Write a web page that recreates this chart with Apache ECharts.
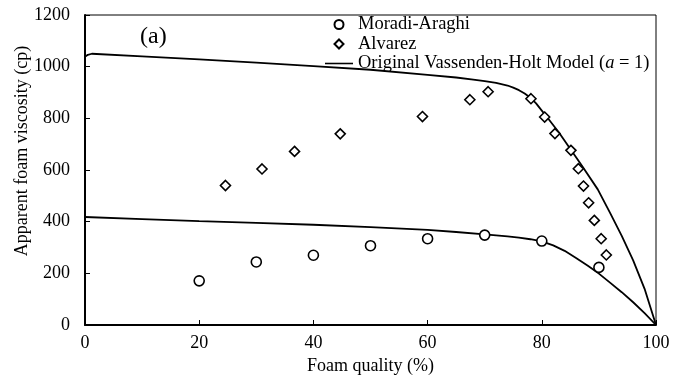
<!DOCTYPE html>
<html>
<head>
<meta charset="utf-8">
<script src="https://cdn.jsdelivr.net/npm/echarts@6/dist/echarts.min.js"></script>
<style>
  html, body { margin: 0; padding: 0; background: #fff; }
  #chart { width: 683px; height: 380px; }
</style>
</head>
<body>
<div id="chart"></div>
<script>
// Moradi-Araghi measurements: foam quality (%) vs apparent viscosity (cp)
const moradiQuality = [20, 30, 40, 50, 60, 70, 80, 90];
const moradiViscosity = [171, 244, 270, 307, 334, 348, 325, 223];

// Alvarez measurements
const alvarezQuality = [24.6, 31.0, 36.7, 44.7, 59.1, 67.4, 70.6, 78.1, 80.5, 82.3, 85.1, 86.4, 87.3, 88.2, 89.2, 90.4, 91.3];
const alvarezViscosity = [540, 604, 672, 740, 807, 872, 903, 876, 805, 741, 676, 605, 538, 473, 405, 334, 271];

// Vassenden-Holt model curve fitted to the Alvarez data
const modelAQuality = [0, 0.5, 1.2, 10, 20, 30, 40, 50, 60, 65, 68, 70, 72, 74, 75, 76, 77, 78, 79, 80, 81, 83, 85, 87, 89.8, 92, 94, 96, 98, 100];
const modelAViscosity = [1038, 1046, 1050, 1040, 1028, 1016, 1002, 988, 968, 958, 950, 944, 937, 927, 919, 909, 896, 880, 858, 830, 802, 745, 681, 617, 525, 432, 345, 250, 140, 0];

// Vassenden-Holt model curve fitted to the Moradi-Araghi data
const modelMQuality = [0, 10, 20, 30, 40, 50, 60, 65, 70, 72, 74, 76, 78, 80, 82, 84, 86, 88, 90, 92, 94, 96, 98, 100];
const modelMViscosity = [418, 410, 402, 395, 388, 379, 368, 360, 351, 347, 343, 338, 332, 324, 308, 287, 259, 230, 199, 163, 127, 88, 46, 0];

const xTicks = { min: 0, max: 100, interval: 20 };
const yTicks = { min: 0, max: 1200, interval: 200 };

const modelName = 'Original Vassenden-Holt Model (a = 1)';
const pairs = (xs, ys) => xs.map((x, i) => [x, ys[i]]);

const serif = 'Liberation Serif';
const black = '#000';
const chart = echarts.init(document.getElementById('chart'));
chart.setOption({
  animation: false,
  backgroundColor: '#fff',
  textStyle: { fontFamily: serif, color: black },
  title: {
    text: '(a)',
    left: 135, top: 20,
    textStyle: { fontFamily: serif, fontSize: 24, fontWeight: 'normal', color: black }
  },
  graphic: [
    {
      // y-axis title, placed a little above the plot's vertical centre
      type: 'text',
      x: 22, y: 151,
      rotation: Math.PI / 2,
      style: {
        text: 'Apparent foam viscosity (cp)',
        font: '18px "Liberation Serif"',
        fill: black,
        align: 'center',
        verticalAlign: 'middle'
      }
    }
  ],
  grid: {
    left: 85, right: 27, top: 15, bottom: 54,
    show: true, borderColor: black, borderWidth: 1, backgroundColor: 'transparent'
  },
  legend: {
    orient: 'vertical',
    left: 325, top: 15,
    padding: 0,
    itemWidth: 28, itemHeight: 9, itemGap: 0.5,
    symbolKeepAspect: true,
    textStyle: {
      fontFamily: serif, fontSize: 18.5, color: black, lineHeight: 18,
      rich: {
        n: { fontFamily: serif, fontSize: 18.5, color: black },
        i: { fontFamily: serif, fontSize: 18.5, color: black, fontStyle: 'italic' }
      }
    },
    formatter: function (name) {
      if (name === modelName) {
        return '{n|Original Vassenden-Holt Model (}{i|a}{n| = 1)}';
      }
      return name;
    },
    data: [
      { name: 'Moradi-Araghi', icon: 'circle' },
      { name: 'Alvarez', icon: 'path://M5,0L10,5L5,10L0,5Z' },
      { name: modelName, icon: 'path://M0,0H32V1.8H0Z',
        itemStyle: { color: black, borderWidth: 0 } }
    ]
  },
  xAxis: {
    type: 'value',
    min: xTicks.min, max: xTicks.max, interval: xTicks.interval,
    name: 'Foam quality (%)',
    nameLocation: 'middle', nameGap: 32,
    nameTextStyle: { fontFamily: serif, fontSize: 18, color: black },
    axisLine: { show: true, lineStyle: { color: black, width: 2 } },
    axisTick: { show: true, inside: true, length: 5, lineStyle: { color: black, width: 1 } },
    axisLabel: { fontFamily: serif, fontSize: 18, color: black, margin: 9, formatter: v => String(v) },
    splitLine: { show: false }
  },
  yAxis: {
    type: 'value',
    min: yTicks.min, max: yTicks.max, interval: yTicks.interval,
    axisLine: { show: true, lineStyle: { color: black, width: 2 } },
    axisTick: { show: true, inside: true, length: 5, lineStyle: { color: black, width: 1 } },
    axisLabel: { fontFamily: serif, fontSize: 18, color: black, margin: 15, formatter: v => String(v) },
    splitLine: { show: false }
  },
  series: [
    {
      name: 'Moradi-Araghi',
      type: 'scatter',
      symbol: 'circle', symbolSize: 10,
      itemStyle: { color: '#fff', borderColor: black, borderWidth: 1.6, opacity: 1 },
      data: pairs(moradiQuality, moradiViscosity),
      z: 3
    },
    {
      name: 'Alvarez',
      type: 'scatter',
      symbol: 'diamond', symbolSize: [10, 10],
      itemStyle: { color: '#fff', borderColor: black, borderWidth: 1.6, opacity: 1 },
      data: pairs(alvarezQuality, alvarezViscosity),
      z: 3
    },
    {
      name: modelName,
      type: 'line',
      symbol: 'none', showSymbol: false,
      smooth: false,
      lineStyle: { color: black, width: 1.8 },
      itemStyle: { color: black },
      data: pairs(modelAQuality, modelAViscosity),
      z: 2
    },
    {
      name: modelName,
      type: 'line',
      symbol: 'none', showSymbol: false,
      smooth: false,
      lineStyle: { color: black, width: 1.8 },
      itemStyle: { color: black },
      data: pairs(modelMQuality, modelMViscosity),
      z: 2
    }
  ]
});
</script>
</body>
</html>
